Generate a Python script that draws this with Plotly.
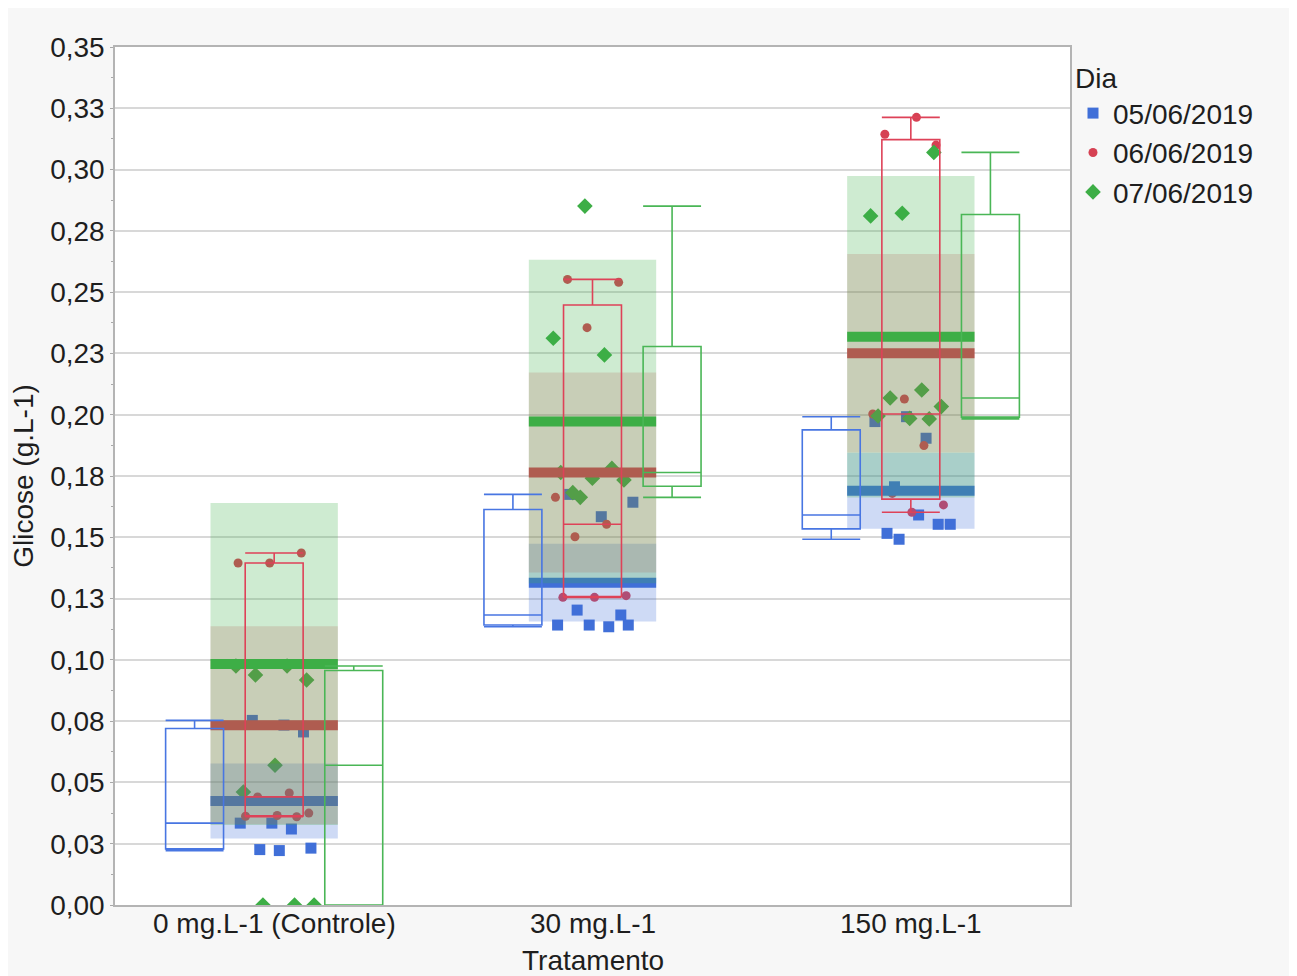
import numpy as np
import plotly.graph_objects as go

# ---------------- data ----------------
treatments = ["0 mg.L-1 (Controle)", "30 mg.L-1", "150 mg.L-1"]
days = ["05/06/2019", "06/06/2019", "07/06/2019"]

# Glicose (g.L-1) observations, one list per treatment
glic_0506 = [
    [0.0734, 0.0753, 0.0706, 0.0334, 0.0334, 0.0310, 0.0226, 0.0232, 0.0222],
    [0.1643, 0.1584, 0.1675, 0.1183, 0.1142, 0.1142, 0.1135, 0.1203, 0.1142],
    [0.1492, 0.1553, 0.1591, 0.1516, 0.1553, 0.1992, 0.1972, 0.1904, 0.1706],
]
glic_0606 = [
    [0.1436, 0.1395, 0.1395, 0.0457, 0.0441, 0.0375, 0.0365, 0.0362, 0.0360],
    [0.2552, 0.2540, 0.2355, 0.1663, 0.1553, 0.1502, 0.1262, 0.1255, 0.1255],
    [0.3213, 0.3144, 0.3100, 0.2064, 0.2003, 0.1874, 0.1679, 0.1632, 0.1602],
]
glic_0706 = [
    [0.0975, 0.0975, 0.0938, 0.0918, 0.0570, 0.0461, 0.0000, 0.0000, 0.0000],
    [0.2851, 0.2312, 0.2244, 0.1682, 0.1734, 0.1741, 0.1764, 0.1781, 0.1663],
    [0.3070, 0.2822, 0.2811, 0.2101, 0.2068, 0.2033, 0.1985, 0.1995, 0.1983],
]

# mean lines and shaded interval half-widths per treatment
mean_0506 = [0.0424, 0.1315, 0.1690]
mean_0606 = [0.0733, 0.1764, 0.2251]
mean_0706 = [0.0983, 0.1972, 0.2318]
band_0506 = [0.0153, 0.0159, 0.0155]
band_0606 = [0.0404, 0.0408, 0.0405]
band_0706 = [0.0657, 0.0660, 0.0656]

y_tickvals = [0.0, 0.025, 0.05, 0.075, 0.10, 0.125, 0.15, 0.175, 0.20,
              0.225, 0.25, 0.275, 0.30, 0.325, 0.35]
y_ticktext = ["0,00", "0,03", "0,05", "0,08", "0,10", "0,13", "0,15", "0,18",
              "0,20", "0,23", "0,25", "0,28", "0,30", "0,33", "0,35"]

# ---------------- styling ----------------
FONT = "Arial, Liberation Sans, sans-serif"
TXT = "#1e1e1e"
FS = 28
colors = ["rgb(64,111,216)", "rgb(214,65,83)", "rgb(61,174,70)"]
fills = ["rgba(64,111,216,0.26)", "rgba(214,65,83,0.20)", "rgba(61,174,70,0.25)"]
box_colors = ["rgb(72,118,226)", "rgb(222,66,88)", "rgb(74,182,86)"]
symbols = ["square", "circle", "diamond"]
sizes = [11, 9, 12]
box_off = [-0.25, 0.0, 0.25]
BAND_W = 0.40
BOX_W = 0.182

series = [
    (days[0], glic_0506, mean_0506, band_0506),
    (days[1], glic_0606, mean_0606, band_0606),
    (days[2], glic_0706, mean_0706, band_0706),
]
pos = np.arange(len(treatments))

fig = go.Figure()

# 1) points (bottom layer, y)
for s, (name, vals, _, _) in enumerate(series):
    xs, ys = [], []
    for t, v in enumerate(vals):
        for k, val in enumerate(v):
            jit = 0.26 * (((k + 1) * 0.618034 + 0.37 * t + 0.21 * s) % 1.0 - 0.5)
            xs.append(t + jit)
            ys.append(val)
    fig.add_trace(go.Scatter(
        x=xs, y=ys, mode="markers", name=name, yaxis="y",
        marker=dict(symbol=symbols[s], size=sizes[s], color=colors[s],
                    line=dict(width=0)),
        hoverinfo="skip"))

# 2) shaded intervals + mean lines, one overlay layer per day (y2..y4)
for s, (name, vals, means, bands) in enumerate(series):
    ax = "y%d" % (s + 2)
    fig.add_trace(go.Bar(
        x=pos, y=[2 * b for b in bands], base=[m - b for m, b in zip(means, bands)],
        width=BAND_W, yaxis=ax, showlegend=False, hoverinfo="skip",
        marker=dict(color=fills[s], line=dict(width=0))))
    lx, ly = [], []
    for t, m in enumerate(means):
        lx += [t - BAND_W / 2, t + BAND_W / 2, None]
        ly += [m, m, None]
    fig.add_trace(go.Scatter(
        x=lx, y=ly, mode="lines", yaxis=ax, showlegend=False, hoverinfo="skip",
        line=dict(color=colors[s], width=10)))

# 3) box plots on top (y5)
for s, (name, vals, _, _) in enumerate(series):
    bx, by = [], []
    for t, v in enumerate(vals):
        bx += [t + box_off[s]] * len(v)
        by += list(v)
    fig.add_trace(go.Box(
        x=bx, y=by, yaxis="y5", width=BOX_W, whiskerwidth=1,
        boxpoints=False, quartilemethod="exclusive",
        line=dict(color=box_colors[s], width=1.6),
        fillcolor="rgba(0,0,0,0)", showlegend=False, hoverinfo="skip"))

minor_vals = [0.0125 + 0.025 * i for i in range(14)]
yrange = [0, 0.35]
overlay = dict(overlaying="y", range=yrange, visible=False, fixedrange=True)

# page is offset by the 8px body margin: figure coords = page coords - 8
W, H = 1289, 968
PL, PT, PW, PH = 107, 39, 955, 858

def px_to_paper_x(px):
    return (px - PL) / PW

def px_to_paper_y(py):
    return (PT + PH - py) / PH

annotations = [
    dict(x=t, xref="x", y=0, yref="paper", text=lab, showarrow=False,
         yanchor="middle", xanchor="center", yshift=-18,
         font=dict(size=FS, family=FONT, color=TXT))
    for t, lab in zip(pos, treatments)
]
annotations.append(dict(x=0.5, xref="paper", y=0, yref="paper", text="Tratamento",
                        showarrow=False, yanchor="middle", xanchor="center", yshift=-55,
                        font=dict(size=FS, family=FONT, color=TXT)))

fig.update_layout(
    width=W, height=H,
    margin=dict(l=PL, r=W - PL - PW, t=PT, b=H - PT - PH),
    paper_bgcolor="#f7f7f7", plot_bgcolor="white",
    font=dict(family=FONT, size=FS, color=TXT),
    hovermode=False, barmode="overlay", boxmode="overlay",
    xaxis=dict(range=[-0.5, 2.5], tickmode="array", tickvals=pos, ticktext=treatments,
               showticklabels=False, showgrid=False, zeroline=False, showline=True,
               mirror=True, linecolor="#b4b4b4", linewidth=1.5, ticks=""),
    yaxis=dict(range=yrange, tickmode="array", tickvals=y_tickvals, ticktext=y_ticktext,
               ticks="outside", ticklen=3, tickcolor="#a8a8a8", tickwidth=1,
               showgrid=True, gridcolor="#d8d8d8", gridwidth=1.5,
               showline=True, mirror=True, linecolor="#b4b4b4", linewidth=1.5,
               zeroline=False,
               minor=dict(tickmode="array", tickvals=minor_vals, ticks="outside",
                          ticklen=2, tickcolor="#a8a8a8", showgrid=False),
               tickfont=dict(size=FS, family=FONT, color=TXT),
               title=dict(text="Glicose (g.L-1)", font=dict(size=FS, family=FONT, color=TXT),
                          standoff=10)),
    yaxis2=overlay, yaxis3=overlay, yaxis4=overlay, yaxis5=overlay,
    legend=dict(title=dict(text="Dia", font=dict(size=FS, family=FONT, color=TXT)),
                x=px_to_paper_x(1065), xanchor="left",
                y=px_to_paper_y(44), yanchor="top",
                font=dict(size=FS, family=FONT, color=TXT),
                bgcolor="rgba(0,0,0,0)", itemsizing="trace", tracegroupgap=0),
    annotations=annotations,
)

fig.write_html("out.html")
